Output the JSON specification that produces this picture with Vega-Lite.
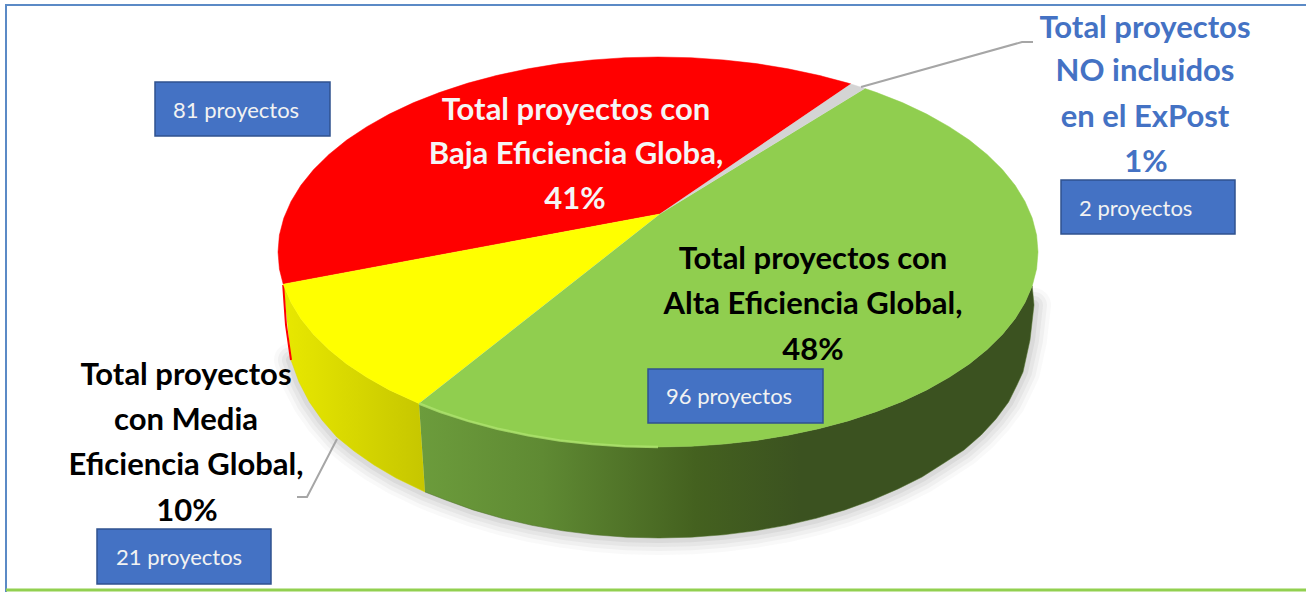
{"$schema":"https://vega.github.io/schema/vega-lite/v6.json","width":1306,"height":592,"padding":0,"autosize":{"type":"none"},"background":"#ffffff","config":{"view":{"stroke":null}},
"datasets":{
"outline":[
{"p":"red","x":660,"y":214},{"p":"red","x":851,"y":84},{"p":"red","x":848,"y":83.1},{"p":"red","x":818.6,"y":75.3},{"p":"red","x":788,"y":68.8},{"p":"red","x":756.3,"y":63.6},{"p":"red","x":724,"y":60},{"p":"red","x":691.1,"y":57.7},{"p":"red","x":658,"y":57},{"p":"red","x":624.9,"y":57.7},{"p":"red","x":592,"y":60},{"p":"red","x":559.7,"y":63.6},{"p":"red","x":528,"y":68.8},{"p":"red","x":497.4,"y":75.3},{"p":"red","x":468,"y":83.1},{"p":"red","x":440,"y":92.3},{"p":"red","x":413.7,"y":102.6},{"p":"red","x":389.3,"y":114.1},{"p":"red","x":366.9,"y":126.7},{"p":"red","x":346.7,"y":140.1},{"p":"red","x":328.9,"y":154.5},{"p":"red","x":313.6,"y":169.6},{"p":"red","x":300.9,"y":185.3},{"p":"red","x":291,"y":201.5},{"p":"red","x":283.8,"y":218.1},{"p":"red","x":279.4,"y":235},{"p":"red","x":278,"y":252},{"p":"red","x":279.4,"y":269},{"p":"red","x":283.2,"y":284.2},
{"p":"yellow","x":660,"y":214},{"p":"yellow","x":283.2,"y":284.2},{"p":"yellow","x":291,"y":302.5},{"p":"yellow","x":300.9,"y":318.7},{"p":"yellow","x":313.6,"y":334.4},{"p":"yellow","x":328.9,"y":349.5},{"p":"yellow","x":346.7,"y":363.9},{"p":"yellow","x":366.9,"y":377.3},{"p":"yellow","x":389.3,"y":389.9},{"p":"yellow","x":419,"y":403.5},
{"p":"green","x":660,"y":214},{"p":"green","x":865,"y":88.5},{"p":"green","x":876,"y":92.3},{"p":"green","x":902.3,"y":102.6},{"p":"green","x":926.7,"y":114.1},{"p":"green","x":949.1,"y":126.7},{"p":"green","x":969.3,"y":140.1},{"p":"green","x":987.1,"y":154.5},{"p":"green","x":1002.4,"y":169.6},{"p":"green","x":1015.1,"y":185.3},{"p":"green","x":1025,"y":201.5},{"p":"green","x":1032.2,"y":218.1},{"p":"green","x":1036.6,"y":235},{"p":"green","x":1038,"y":252},{"p":"green","x":1036.6,"y":269},{"p":"green","x":1032.2,"y":285.9},{"p":"green","x":1025,"y":302.5},{"p":"green","x":1015.1,"y":318.7},{"p":"green","x":1002.4,"y":334.4},{"p":"green","x":987.1,"y":349.5},{"p":"green","x":969.3,"y":363.9},{"p":"green","x":949.1,"y":377.3},{"p":"green","x":926.7,"y":389.9},{"p":"green","x":902.3,"y":401.4},{"p":"green","x":876,"y":411.7},{"p":"green","x":848,"y":420.9},{"p":"green","x":818.6,"y":428.7},{"p":"green","x":788,"y":435.2},{"p":"green","x":756.3,"y":440.4},{"p":"green","x":724,"y":444},{"p":"green","x":691.1,"y":446.3},{"p":"green","x":658,"y":447},{"p":"green","x":624.9,"y":446.3},{"p":"green","x":592,"y":444},{"p":"green","x":559.7,"y":440.4},{"p":"green","x":528,"y":435.2},{"p":"green","x":497.4,"y":428.7},{"p":"green","x":468,"y":420.9},{"p":"green","x":440,"y":411.7},{"p":"green","x":419,"y":403.5},
{"p":"grey","x":660,"y":214},{"p":"grey","x":851,"y":84},{"p":"grey","x":865,"y":88.5},
{"p":"sideY","x":283.2,"y":284.2},{"p":"sideY","x":291,"y":302.5},{"p":"sideY","x":300.9,"y":318.7},{"p":"sideY","x":313.6,"y":334.4},{"p":"sideY","x":328.9,"y":349.5},{"p":"sideY","x":346.7,"y":363.9},{"p":"sideY","x":366.9,"y":377.3},{"p":"sideY","x":389.3,"y":389.9},{"p":"sideY","x":419,"y":403.5},{"p":"sideY","x":425,"y":492},{"p":"sideY","x":396,"y":478},{"p":"sideY","x":374,"y":465},{"p":"sideY","x":354,"y":451},{"p":"sideY","x":336.8,"y":437},{"p":"sideY","x":322,"y":420},{"p":"sideY","x":309.4,"y":402},{"p":"sideY","x":299,"y":382},{"p":"sideY","x":291,"y":360},
{"p":"sideG","x":419,"y":403.5},{"p":"sideG","x":440,"y":411.7},{"p":"sideG","x":468,"y":420.9},{"p":"sideG","x":497.4,"y":428.7},{"p":"sideG","x":528,"y":435.2},{"p":"sideG","x":559.7,"y":440.4},{"p":"sideG","x":592,"y":444},{"p":"sideG","x":624.9,"y":446.3},{"p":"sideG","x":658,"y":447},{"p":"sideG","x":691.1,"y":446.3},{"p":"sideG","x":724,"y":444},{"p":"sideG","x":756.3,"y":440.4},{"p":"sideG","x":788,"y":435.2},{"p":"sideG","x":818.6,"y":428.7},{"p":"sideG","x":848,"y":420.9},{"p":"sideG","x":876,"y":411.7},{"p":"sideG","x":902.3,"y":401.4},{"p":"sideG","x":926.7,"y":389.9},{"p":"sideG","x":949.1,"y":377.3},{"p":"sideG","x":969.3,"y":363.9},{"p":"sideG","x":987.1,"y":349.5},{"p":"sideG","x":1002.4,"y":334.4},{"p":"sideG","x":1015.1,"y":318.7},{"p":"sideG","x":1025,"y":302.5},{"p":"sideG","x":1032.2,"y":285.9},{"p":"sideG","x":1034,"y":305},{"p":"sideG","x":1030,"y":340},{"p":"sideG","x":1023,"y":372},{"p":"sideG","x":1017,"y":385},{"p":"sideG","x":1008.6,"y":402},{"p":"sideG","x":996,"y":419},{"p":"sideG","x":981.2,"y":435},{"p":"sideG","x":964,"y":450},{"p":"sideG","x":944,"y":463},{"p":"sideG","x":922,"y":477},{"p":"sideG","x":898,"y":488.9},{"p":"sideG","x":872.4,"y":500},{"p":"sideG","x":845,"y":509.9},{"p":"sideG","x":816.2,"y":518.3},{"p":"sideG","x":786.2,"y":525.3},{"p":"sideG","x":755.3,"y":530.8},{"p":"sideG","x":723.6,"y":534.8},{"p":"sideG","x":691.4,"y":537.2},{"p":"sideG","x":659,"y":538},{"p":"sideG","x":626.6,"y":537.2},{"p":"sideG","x":594.4,"y":534.8},{"p":"sideG","x":562.7,"y":530.8},{"p":"sideG","x":531.8,"y":525.3},{"p":"sideG","x":501.8,"y":518.3},{"p":"sideG","x":473,"y":509.9},{"p":"sideG","x":445.6,"y":500},{"p":"sideG","x":425,"y":492}
],
"shadow":[{"x":291,"y":360},{"x":299,"y":382},{"x":309.4,"y":402},{"x":322,"y":420},{"x":336.8,"y":437},{"x":354,"y":451},{"x":374,"y":465},{"x":396,"y":478},{"x":425,"y":492},{"x":445.6,"y":500},{"x":473,"y":509.9},{"x":501.8,"y":518.3},{"x":531.8,"y":525.3},{"x":562.7,"y":530.8},{"x":594.4,"y":534.8},{"x":626.6,"y":537.2},{"x":659,"y":538},{"x":691.4,"y":537.2},{"x":723.6,"y":534.8},{"x":755.3,"y":530.8},{"x":786.2,"y":525.3},{"x":816.2,"y":518.3},{"x":845,"y":509.9},{"x":872.4,"y":500},{"x":898,"y":488.9},{"x":922,"y":477},{"x":944,"y":463},{"x":964,"y":450},{"x":981.2,"y":435},{"x":996,"y":419},{"x":1008.6,"y":402},{"x":1017,"y":385},{"x":1023,"y":372},{"x":1030,"y":340},{"x":1034,"y":305}],
"rim":[{"x":419,"y":403.5},{"x":440,"y":411.7},{"x":468,"y":420.9},{"x":497.4,"y":428.7},{"x":528,"y":435.2},{"x":559.7,"y":440.4},{"x":592,"y":444},{"x":624.9,"y":446.3},{"x":658,"y":447}],
"frame":[{"x":6,"y":592},{"x":6,"y":5},{"x":1306,"y":5}],
"floor":[{"x":6,"y":590},{"x":1306,"y":590}],
"sliver":[{"x":283.2,"y":285},{"x":286,"y":325},{"x":291,"y":360}],
"leaderA":[{"x":861,"y":87},{"x":1022,"y":42},{"x":1033,"y":42}],
"leaderB":[{"x":337,"y":439},{"x":307,"y":497},{"x":297,"y":497}],
"boxes":[{"n":81,"x":155,"x2":330,"y":82,"y2":136},{"n":2,"x":1061,"x2":1235,"y":180,"y2":234},{"n":96,"x":648,"x2":823,"y":369,"y2":423},{"n":21,"x":97,"x2":271,"y":529,"y2":584}],
"boxText":[{"t":"81 proyectos","x":173,"y":110},{"t":"2 proyectos","x":1079,"y":208},{"t":"96 proyectos","x":666,"y":396},{"t":"21 proyectos","x":116,"y":557}],
"labels":[
{"g":"blue","t":"Total proyectos","x":1145,"y":27},{"g":"blue","t":"NO incluidos","x":1145,"y":70},{"g":"blue","t":"en el ExPost","x":1145,"y":116},{"g":"blue","t":"1%","x":1146,"y":161},
{"g":"white","t":"Total proyectos con","x":576,"y":109},{"g":"white","t":"Baja Eficiencia Globa,","x":576,"y":153},{"g":"white","t":"41%","x":575,"y":198},
{"g":"black","t":"Total proyectos con","x":813,"y":258},{"g":"black","t":"Alta Eficiencia Global,","x":813,"y":303},{"g":"black","t":"48%","x":813,"y":349},
{"g":"black","t":"Total proyectos","x":186,"y":374},{"g":"black","t":"con Media","x":186,"y":419},{"g":"black","t":"Eficiencia Global,","x":186,"y":464},{"g":"black","t":"10%","x":187,"y":510}
]},
"encoding":{"x":{"field":"x","type":"quantitative","axis":null,"scale":{"domain":[0,1306],"nice":false,"zero":false}},"y":{"field":"y","type":"quantitative","axis":null,"scale":{"domain":[592,0],"nice":false,"zero":false}}},
"layer":[
{"data":{"name":"shadow"},"mark":{"type":"line","stroke":"#808080","strokeWidth":34,"opacity":0.05,"strokeCap":"round"},"encoding":{"order":{"value":null}}},
{"data":{"name":"shadow"},"mark":{"type":"line","stroke":"#808080","strokeWidth":26,"opacity":0.07,"strokeCap":"round"},"encoding":{"order":{"value":null}}},
{"data":{"name":"shadow"},"mark":{"type":"line","stroke":"#808080","strokeWidth":18,"opacity":0.09,"strokeCap":"round"},"encoding":{"order":{"value":null}}},
{"data":{"name":"shadow"},"mark":{"type":"line","stroke":"#808080","strokeWidth":10,"opacity":0.12,"strokeCap":"round"},"encoding":{"order":{"value":null}}},
{"data":{"name":"outline"},"transform":[{"filter":"datum.p=='sideY'"}],"mark":{"type":"line","strokeWidth":0.5,"stroke":"#d8d800","fill":{"gradient":"linear","x1":0,"y1":0,"x2":1,"y2":0,"stops":[{"offset":0,"color":"#e8e800"},{"offset":1,"color":"#c6c600"}]}},"encoding":{"order":{"value":null}}},
{"data":{"name":"outline"},"transform":[{"filter":"datum.p=='sideG'"}],"mark":{"type":"line","strokeWidth":0.5,"stroke":"#4f6f2a","fill":{"gradient":"linear","x1":0,"y1":0,"x2":1,"y2":0,"stops":[{"offset":0,"color":"#6c9c3c"},{"offset":0.2,"color":"#5f8a33"},{"offset":0.45,"color":"#44611f"},{"offset":0.62,"color":"#3b5220"},{"offset":1,"color":"#3b5220"}]}},"encoding":{"order":{"value":null}}},
{"data":{"name":"sliver"},"mark":{"type":"line","stroke":"#ff0000","strokeWidth":2},"encoding":{"order":{"value":null}}},
{"data":{"name":"outline"},"transform":[{"filter":"datum.p=='red'"}],"mark":{"type":"line","fill":"#ff0000","stroke":"#ff0000","strokeWidth":0.5},"encoding":{"order":{"value":null}}},
{"data":{"name":"outline"},"transform":[{"filter":"datum.p=='yellow'"}],"mark":{"type":"line","fill":"#ffff00","stroke":"#ffff00","strokeWidth":0.5},"encoding":{"order":{"value":null}}},
{"data":{"name":"outline"},"transform":[{"filter":"datum.p=='green'"}],"mark":{"type":"line","fill":"#90ce4f","stroke":"#90ce4f","strokeWidth":0.5},"encoding":{"order":{"value":null}}},
{"data":{"name":"outline"},"transform":[{"filter":"datum.p=='grey'"}],"mark":{"type":"line","fill":"#d4d4d4","stroke":"#d4d4d4","strokeWidth":0.5},"encoding":{"order":{"value":null}}},
{"data":{"name":"rim"},"mark":{"type":"line","stroke":"#aee36e","strokeWidth":2.5,"opacity":0.8},"encoding":{"order":{"value":null}}},
{"data":{"name":"leaderA"},"mark":{"type":"line","stroke":"#a6a6a6","strokeWidth":2},"encoding":{"order":{"value":null}}},
{"data":{"name":"leaderB"},"mark":{"type":"line","stroke":"#a6a6a6","strokeWidth":2},"encoding":{"order":{"value":null}}},
{"data":{"name":"frame"},"mark":{"type":"line","stroke":"#5b8ac6","strokeWidth":2},"encoding":{"order":{"value":null}}},
{"data":{"name":"floor"},"mark":{"type":"line","stroke":"#92d050","strokeWidth":3},"encoding":{"order":{"value":null}}},
{"data":{"name":"boxes"},"mark":{"type":"rect","fill":"#4472c4","stroke":"#2f528f","strokeWidth":1.5},"encoding":{"x2":{"field":"x2"},"y2":{"field":"y2"}}},
{"data":{"name":"boxText"},"mark":{"type":"text","align":"left","baseline":"middle","dy":1,"font":"Lato","fontSize":22,"color":"#f2f2f2"},"encoding":{"text":{"field":"t"}}},
{"data":{"name":"labels"},"transform":[{"filter":"datum.g=='blue'"}],"mark":{"type":"text","align":"center","baseline":"middle","dy":2,"font":"Lato","fontWeight":"bold","fontSize":31,"color":"#4472c4"},"encoding":{"text":{"field":"t"}}},
{"data":{"name":"labels"},"transform":[{"filter":"datum.g=='white'"}],"mark":{"type":"text","align":"center","baseline":"middle","dy":2,"font":"Lato","fontWeight":"bold","fontSize":31,"color":"#f5f5f5"},"encoding":{"text":{"field":"t"}}},
{"data":{"name":"labels"},"transform":[{"filter":"datum.g=='black'"}],"mark":{"type":"text","align":"center","baseline":"middle","dy":2,"font":"Lato","fontWeight":"bold","fontSize":31,"color":"#000000"},"encoding":{"text":{"field":"t"}}}
]}
